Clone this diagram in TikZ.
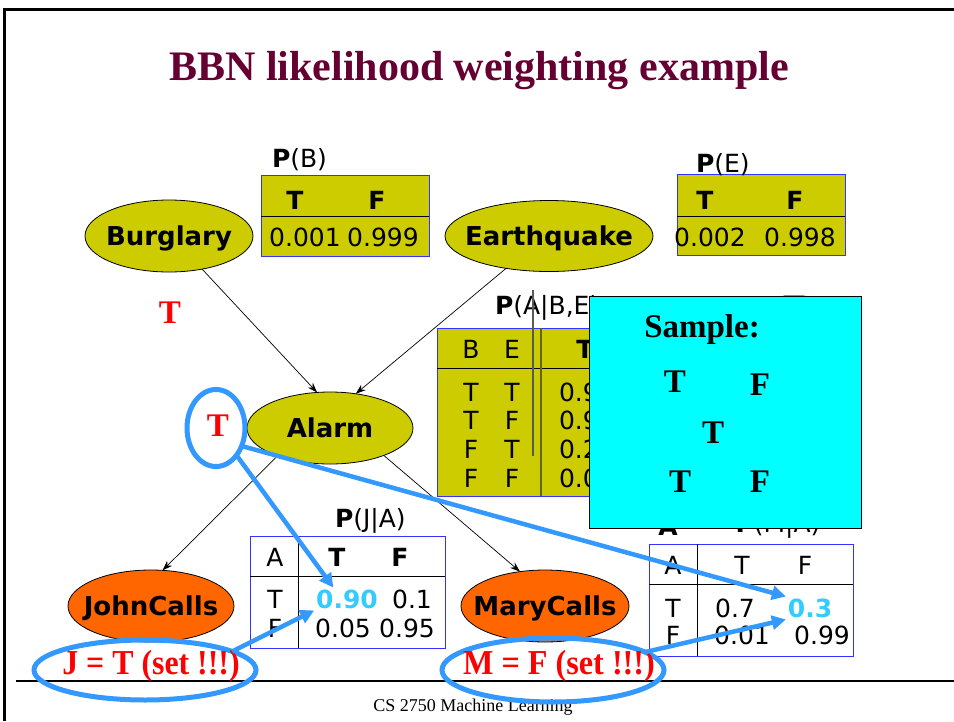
\documentclass[tikz,border=0pt]{standalone}
\usepackage{fontspec}
\setmainfont{Liberation Serif}
\newfontfamily\vf{DejaVu Sans}
\usetikzlibrary{shapes.geometric,arrows.meta}
\definecolor{olv}{HTML}{CCCC00}
\definecolor{orng}{HTML}{FF6600}
\definecolor{maroonc}{HTML}{660033}
\definecolor{bl}{HTML}{3399FF}
\definecolor{valc}{HTML}{33CCFF}
\definecolor{boxc}{HTML}{00FFFF}
\definecolor{tblb}{HTML}{3333FF}
\definecolor{dolv}{HTML}{666600}
\begin{document}
\begin{tikzpicture}[x=1pt,y=-1pt,
  every node/.style={inner sep=0pt, outer sep=0pt},
  bn/.style={ellipse, draw=black, line width=0.8pt, fill=olv, text height=19pt, text depth=0pt, font=\vf\bfseries\fontsize{26}{30}\selectfont},
  en/.style={ellipse, draw=black, line width=0.8pt, fill=orng, text height=19pt, text depth=0pt, font=\vf\bfseries\fontsize{26}{30}\selectfont},
  tv/.style={font=\vf\fontsize{25}{30}\selectfont},
  tb/.style={font=\vf\bfseries\fontsize{25}{30}\selectfont},
  hv/.style={tb, text=valc},
  redt/.style={text=red, font=\bfseries\fontsize{33}{36}\selectfont},
  evt/.style={text=red, font=\bfseries\fontsize{35}{38}\selectfont},
  smt/.style={font=\bfseries\fontsize{33}{36}\selectfont},
  tbl/.style={draw=tblb, line width=0.8pt},
  arr/.style={-{Stealth[length=10pt,width=7pt]}, line width=0.7pt},
  barr/.style={draw=bl, line width=4.5pt, -{Triangle[length=14pt,width=14pt]}},
  bell/.style={ellipse, draw=bl, line width=5pt}
]
\path[use as bounding box, fill=white] (0,0) rectangle (954,721);
\draw[line width=3pt] (4,721) -- (4,9) -- (954,9);
\draw[line width=1.2pt] (16,681) -- (954,681);

% title and footer
\node (title) [text=maroonc, font=\bfseries\fontsize{42}{48}\selectfont, anchor=base] at (479,80) {BBN likelihood weighting example};
\node (foot) [font=\fontsize{18}{20}\selectfont, anchor=base] at (473,711) {CS 2750 Machine Learning};

% P(B)
\draw[tbl, fill=olv] (261,175) rectangle (429,256);
\draw[line width=0.8pt] (261,216) -- (429,216);
\node (pbl) [tv, anchor=west] at (272,160) {\textbf{P}(B)};
\node (pbT) [tb] at (295,200) {T};
\node (pbF) [tb] at (377,200) {F};
\node (pbv1) [tv] at (305,237) {0.001};
\node (pbv2) [tv] at (383,237) {0.999};

% P(E)
\draw[tbl, fill=olv] (677,174) rectangle (845,255);
\draw[line width=0.8pt] (677,216) -- (845,216);
\node (pel) [tv, anchor=west] at (696,165) {\textbf{P}(E)};
\node (peT) [tb] at (705,200) {T};
\node (peF) [tb] at (795,200) {F};
\node (pev1) [tv] at (710,237) {0.002};
\node (pev2) [tv] at (800,237) {0.998};

% P(A|B,E)
\draw[tbl, fill=olv] (437,328) rectangle (720,496);
\draw[line width=0.8pt] (437,368) -- (720,368);
\draw[draw=dolv, line width=1.5pt] (541,328) -- (541,496);
\node (pal) [tv, anchor=west] at (495,308) {\textbf{P}(A|B,E)};
\node (paB) [tv] at (471,349) {B};
\node (paE) [tv] at (512,349) {E};
\node (paT) [tb] at (585,349) {T};
\node (r1b) [tv] at (471,392) {T}; \node (r1e) [tv] at (512,392) {T}; \node (r1v) [tv, anchor=west] at (559,392) {0.95};
\node (r2b) [tv] at (471,420) {T}; \node (r2e) [tv] at (512,420) {F}; \node (r2v) [tv, anchor=west] at (559,420) {0.94};
\node (r3b) [tv] at (471,449) {F}; \node (r3e) [tv] at (512,449) {T}; \node (r3v) [tv, anchor=west] at (559,449) {0.29};
\node (r4b) [tv] at (471,478) {F}; \node (r4e) [tv] at (512,478) {F}; \node (r4v) [tv, anchor=west] at (559,478) {0.001};
\draw[draw=black!65, line width=1.2pt] (533,290) -- (533,456);

% P(J|A)
\draw[tbl, fill=white] (250,536) rectangle (445,648);
\draw[line width=0.8pt] (250,576) -- (445,576);
\draw[line width=0.8pt] (298,536) -- (298,648);
\node (pjl) [tv, anchor=west] at (335,521) {\textbf{P}(J|A)};
\node (pjA) [tv] at (275,557) {A};
\node (pjT) [tb] at (337,557) {T};
\node (pjF) [tb] at (400,557) {F};
\node (pj1a) [tv] at (275,599) {T};
\node (v090) [hv, inner sep=2pt] at (347,599) {0.90};
\node (pj1c) [tv] at (412,599) {0.1};
\node (pj2a) [tv] at (275,628) {F};
\node (pj2b) [tv] at (343,628) {0.05};
\node (pj2c) [tv] at (407,628) {0.95};

% P(M|A)
\draw[tbl, fill=white] (649,544) rectangle (853,656);
\draw[line width=0.8pt] (649,584) -- (853,584);
\draw[line width=0.8pt] (697,544) -- (697,656);
\node (pml) [tv] at (778,526) {\textbf{P}(M|A)};
\node (pmx) [tb] at (668,526) {A};
\node (pmA) [tv] at (673,565) {A};
\node (pmT) [tv] at (742,565) {T};
\node (pmF) [tv] at (805,565) {F};
\node (pm1a) [tv] at (673,608) {T};
\node (pm1b) [tv] at (735,608) {0.7};
\node (v03) [hv, inner sep=2pt] at (810,608) {0.3};
\node (pm2a) [tv] at (673,635) {F};
\node (pm2b) [tv] at (742,635) {0.01};
\node (pm2c) [tv] at (822,635) {0.99};

% network
\node (B) [bn, minimum width=168pt, minimum height=72pt] at (169,236) {\makebox[0pt]{Burglary}};
\node (E) [bn, minimum width=208pt, minimum height=71pt] at (549,236) {\makebox[0pt]{Earthquake}};
\node (A) [bn, minimum width=166pt, minimum height=72pt] at (330,428) {\makebox[0pt]{Alarm}};
\node (J) [en, minimum width=166pt, minimum height=72pt] at (151,606) {\makebox[0pt]{JohnCalls}};
\node (M) [en, minimum width=168pt, minimum height=72pt] at (545,606) {\makebox[0pt]{MaryCalls}};
\draw[arr] (B.-45) -- (A.110);
\draw[arr] (E.217) -- (A.53);
\draw[arr] (A.208) -- (J.72);
\draw[arr] (A.-27) -- (M.126);

% sampled values
\node (tB) [redt] at (170,313) {T};
\node (tE) [redt] at (794,307) {T};
\node (tA) [bell, minimum width=58pt, minimum height=77pt] at (216,428) {};
\node (tAt) [redt] at (218,426) {T};

% evidence
\node (jset) [bell, minimum width=222pt, minimum height=60pt] at (145,670) {};
\node (jtxt) [evt] at (151,666) {\scalebox{0.91}[1]{J = T (set !!!)}};
\node (mset) [bell, minimum width=222pt, minimum height=64pt] at (553,670) {};
\node (mtxt) [evt] at (559,666) {\scalebox{0.92}[1]{M = F (set !!!)}};

% blue arrows
\draw[barr] (tA.-53) -- (v090.140);
\draw[barr] (tA.-35) -- (v03.north west);
\draw[barr] (jset.12) -- (v090.south west);
\draw[barr] (mset.11) -- (v03.south west);

% sample box
\node (smp) [draw=black, fill=boxc, line width=0.8pt, minimum width=272pt, minimum height=232pt] at (725,412) {};
\node (smpl) [smt] at (702,330) {Sample:};
\node (s1) [smt] at (675,382) {T};
\node (s2) [smt] at (760,385) {F};
\node (s3) [smt] at (713,433) {T};
\node (s4) [smt] at (680,482) {T};
\node (s5) [smt] at (760,482) {F};
\end{tikzpicture}
\end{document}
